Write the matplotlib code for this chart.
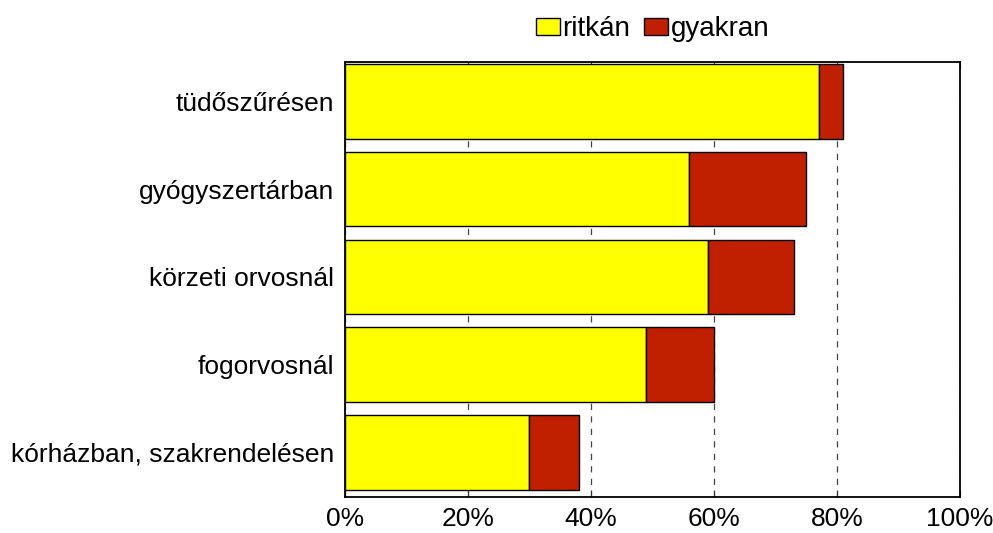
import matplotlib
import matplotlib.pyplot as plt
import numpy as np

matplotlib.pyplot.switch_backend('Agg')
plt.rcParams['font.family'] = ['Liberation Sans', 'DejaVu Sans']

categories = ["tüdőszűrésen", "gyógyszertárban", "körzeti orvosnál",
              "fogorvosnál", "kórházban, szakrendelésen"]
ritkan = [77, 56, 59, 49, 30]
gyakran = [4, 19, 14, 11, 8]
x_ticks = [0, 20, 40, 60, 80, 100]

fig = plt.figure(figsize=(9.93, 5.33), dpi=100)
ax = fig.add_axes([0.3474, 0.0675, 0.6194, 0.8162])

pos = np.arange(len(categories))
ax.barh(pos, ritkan, height=0.85, color="#FFFF00", edgecolor="black", linewidth=1,
        label="ritkán", zorder=3)
ax.barh(pos, gyakran, left=ritkan, height=0.85, color="#C02000", edgecolor="black",
        linewidth=1, label="gyakran", zorder=3)

ax.set_xlim(0, 100)
ax.set_ylim(4.51, -0.45)
ax.set_xticks(x_ticks)
ax.set_xticklabels([f"{t}%" for t in x_ticks], fontsize=19)
ax.set_yticks(pos)
ax.set_yticklabels(categories, fontsize=19)
ax.tick_params(axis='y', length=0, pad=8)
ax.tick_params(axis='x', direction='in', top=True, length=5, pad=7, color="#333333")
ax.xaxis.grid(True, linestyle=(0, (5, 5)), color="#444444", linewidth=0.9, zorder=0)
for s in ax.spines.values():
    s.set_linewidth(1.3)

ax.legend(loc="center", bbox_to_anchor=(0.5, 1.075), ncol=2, frameon=False, fontsize=20,
          handlelength=0.85, handleheight=0.6, handletextpad=0.1, columnspacing=0.5,
          borderpad=0)

plt.savefig("out.png", dpi=100)
